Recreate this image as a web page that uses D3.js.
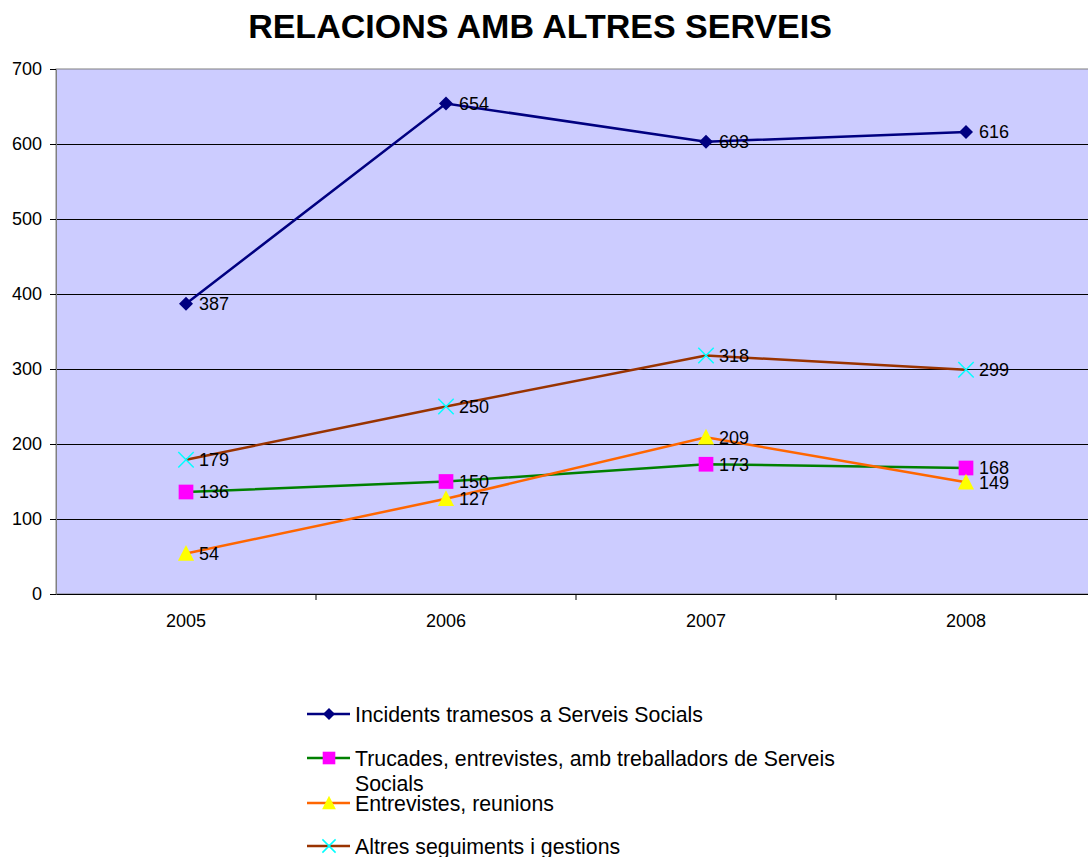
<!DOCTYPE html>
<html>
<head>
<meta charset="utf-8">
<script src="https://cdn.jsdelivr.net/npm/d3@7"></script>
<style>
  body { margin: 0; background: #fff; }
  text { font-family: "Liberation Sans", Arial, sans-serif; }
</style>
</head>
<body>
<div id="chart"></div>
<script>
// Dades
const YEARS = ['2005', '2006', '2007', '2008'];
const INCIDENTS = [387, 654, 603, 616];
const TRUCADES = [136, 150, 173, 168];
const ENTREVISTES = [54, 127, 209, 149];
const ALTRES = [179, 250, 318, 299];
const Y_TICKS = [0, 100, 200, 300, 400, 500, 600, 700];

const SERIES_NAMES = [
    ['Incidents tramesos a Serveis Socials'],
    ['Trucades, entrevistes, amb treballadors de Serveis', 'Socials'],
    ['Entrevistes, reunions'],
    ['Altres seguiments i gestions']
];

const width = 1088;
const height = 857;
const margin = { top: 69, left: 56, bottom: 263, right: -8 };

const series = [
    { name: SERIES_NAMES[0], values: INCIDENTS, line: '#000080', fill: '#000080', marker: 'diamond' },
    { name: SERIES_NAMES[1], values: TRUCADES, line: '#008000', fill: '#FF00FF', marker: 'square' },
    { name: SERIES_NAMES[2], values: ENTREVISTES, line: '#FF6600', fill: '#FFFF00', marker: 'triangle' },
    { name: SERIES_NAMES[3], values: ALTRES, line: '#993300', fill: '#00FFFF', marker: 'x' }
];

const svg = d3.select('#chart').append('svg')
    .attr('width', width)
    .attr('height', height);

// titol
svg.append('text')
    .attr('x', 540)
    .attr('y', 38)
    .attr('text-anchor', 'middle')
    .style('font-size', '34px')
    .style('font-weight', 'bold')
    .text('RELACIONS AMB ALTRES SERVEIS');

const plotW = width - margin.left - margin.right;
const plotH = height - margin.top - margin.bottom;

const x = d3.scaleBand().domain(YEARS).range([0, plotW]);
const y = d3.scaleLinear().domain([0, 700]).range([plotH, 0]);

const g = svg.append('g').attr('transform', `translate(${margin.left},${margin.top})`);

g.append('rect')
    .attr('width', plotW)
    .attr('height', plotH)
    .attr('fill', '#CCCCFF')
    .attr('stroke', '#808080');

// linies de graella
g.selectAll('line.grid')
    .data(Y_TICKS.filter(d => d > 0 && d < 700))
    .join('line')
    .attr('class', 'grid')
    .attr('x1', 0).attr('x2', plotW)
    .attr('y1', d => y(d) + 0.5).attr('y2', d => y(d) + 0.5)
    .attr('stroke', '#000')
    .attr('stroke-width', 1);

// eix Y
const ejeY = d3.axisLeft(y).tickValues(Y_TICKS).tickSize(6).tickPadding(8);
const gy = g.append('g').call(ejeY);
gy.select('.domain').attr('stroke', '#808080');
gy.selectAll('line').attr('stroke', '#000');
gy.selectAll('text').style('font-size', '18px').attr('fill', '#000');

// eix X
const ejeX = d3.axisBottom(x).tickSize(0).tickPadding(20);
const gx = g.append('g').attr('transform', `translate(0,${plotH})`).call(ejeX);
gx.select('.domain').attr('stroke', '#000');
gx.selectAll('text').style('font-size', '18px').attr('fill', '#000');
// marques entre categories
gx.selectAll('line.sep')
    .data(x.domain().slice(1))
    .join('line')
    .attr('class', 'sep')
    .attr('x1', d => x(d)).attr('x2', d => x(d))
    .attr('y1', 0).attr('y2', 6)
    .attr('stroke', '#000');

const cx = d => x(d) + x.bandwidth() / 2;

function drawMarker(sel, type, fill, size) {
    if (type === 'diamond') {
        sel.append('path')
            .attr('d', `M0,${-size}L${size},0L0,${size}L${-size},0Z`)
            .attr('fill', fill);
    } else if (type === 'square') {
        sel.append('rect')
            .attr('x', -size * 1.05).attr('y', -size * 1.05)
            .attr('width', size * 2.1).attr('height', size * 2.1)
            .attr('fill', fill);
    } else if (type === 'triangle') {
        sel.append('path')
            .attr('d', `M0,${-size * 1.2}L${size * 1.15},${size * 1.05}L${-size * 1.15},${size * 1.05}Z`)
            .attr('fill', fill);
    } else {
        sel.append('path')
            .attr('d', `M${-size * 1.1},${-size * 1.1}L${size * 1.1},${size * 1.1}M${size * 1.1},${-size * 1.1}L${-size * 1.1},${size * 1.1}`)
            .attr('stroke', fill)
            .attr('stroke-width', 1.5)
            .attr('fill', 'none');
    }
}

const line = d3.line().x(d => cx(d.year)).y(d => y(d.value));

series.forEach(s => {
    const pts = YEARS.map((yr, i) => ({ year: yr, value: s.values[i] }));
    g.append('path')
        .datum(pts)
        .attr('d', line)
        .attr('fill', 'none')
        .attr('stroke', s.line)
        .attr('stroke-width', 2.5);
});

series.forEach(s => {
    const pts = YEARS.map((yr, i) => ({ year: yr, value: s.values[i] }));
    g.selectAll(null)
        .data(pts)
        .join('g')
        .attr('transform', d => `translate(${cx(d.year)},${y(d.value)})`)
        .each(function () { drawMarker(d3.select(this), s.marker, s.fill, 7); });
    g.selectAll(null)
        .data(pts)
        .join('text')
        .attr('x', d => cx(d.year) + 13)
        .attr('y', d => y(d.value))
        .attr('dy', '0.36em')
        .style('font-size', '18px')
        .attr('fill', '#000')
        .text(d => d.value);
});

// llegenda
const legendRows = [714, 758, 803, 846];
series.forEach((s, i) => {
    const lg = svg.append('g').attr('transform', `translate(307,${legendRows[i]})`);
    lg.append('line')
        .attr('x1', 0).attr('x2', 43)
        .attr('stroke', s.line)
        .attr('stroke-width', 2.5);
    const m = lg.append('g').attr('transform', 'translate(22,0)');
    drawMarker(m, s.marker, s.fill, 6);
    const t = lg.append('text')
        .attr('x', 48)
        .attr('y', 0)
        .style('font-size', '21.3px')
        .attr('fill', '#000');
    s.name.forEach((part, j) => {
        t.append('tspan').attr('x', 48).attr('dy', j === 0 ? '0.36em' : '1.2em').text(part);
    });
});
</script>
</body>
</html>
